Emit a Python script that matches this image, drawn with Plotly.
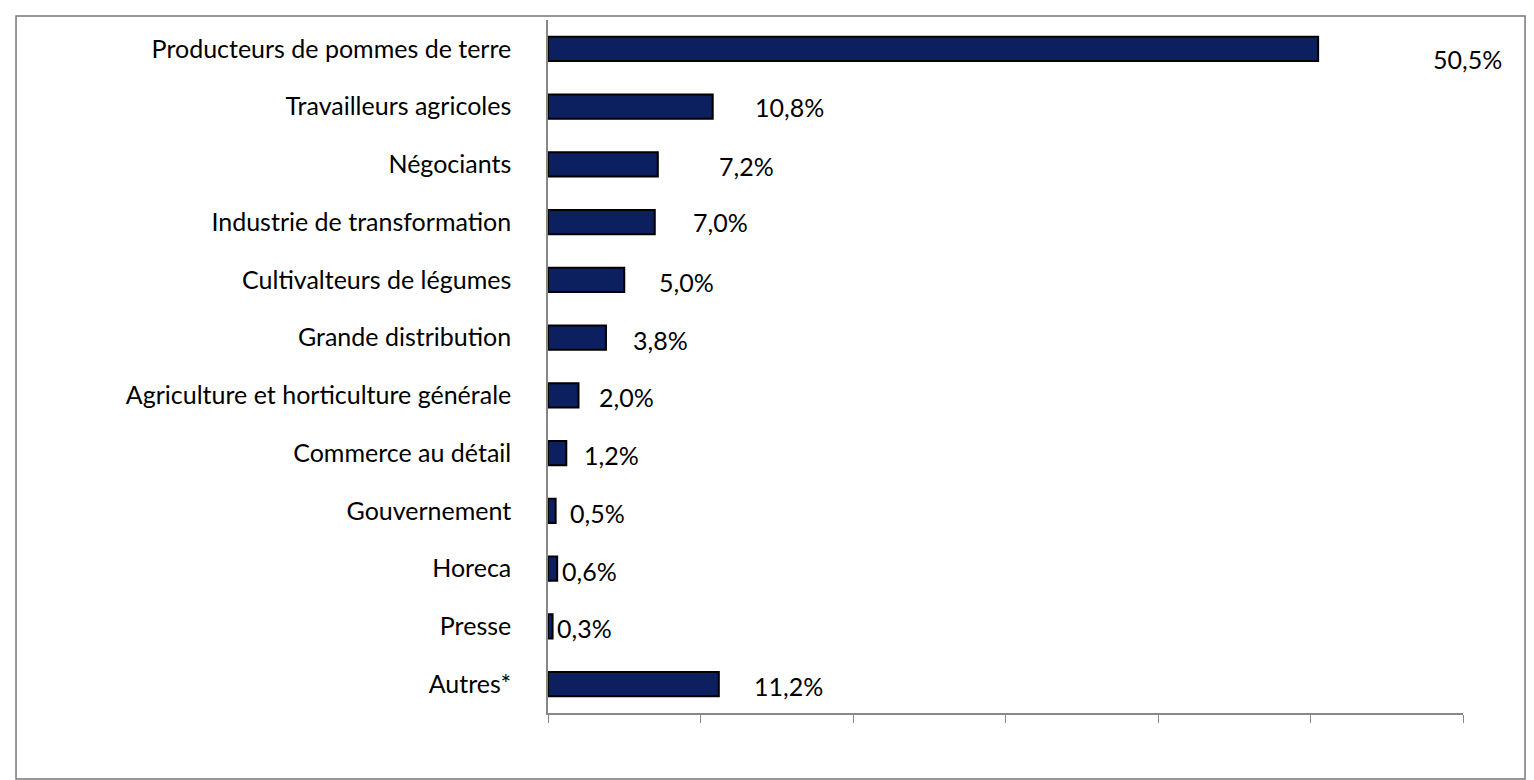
import plotly.graph_objects as go

categories = ["Producteurs de pommes de terre", "Travailleurs agricoles", "Négociants",
              "Industrie de transformation", "Cultivalteurs de légumes", "Grande distribution",
              "Agriculture et horticulture générale", "Commerce au détail", "Gouvernement",
              "Horeca", "Presse", "Autres*"]
values = [50.5, 10.8, 7.2, 7.0, 5.0, 3.8, 2.0, 1.2, 0.5, 0.6, 0.3, 11.2]
labels = ["50,5%", "10,8%", "7,2%", "7,0%", "5,0%", "3,8%", "2,0%", "1,2%", "0,5%", "0,6%", "0,3%", "11,2%"]

# label placement offsets (px), styling only
label_dx = [113, 40, 59, 36, 33, 25, 18, 16, 12, 3, 2, 33]
label_dy = [-10, 0, -2, 0, -2, -2, -2, -2, -2, -2, -2, -2]

FONT = "Lato"
fig = go.Figure(go.Bar(
    x=values, y=categories, orientation="h", width=0.42,
    marker=dict(color="#0c1f5e", line=dict(color="black", width=2)),
))
for c, v, t, dx, dy in zip(categories, values, labels, label_dx, label_dy):
    fig.add_annotation(x=v, y=c, text=t, showarrow=False, xanchor="left",
                       xshift=dx, yshift=dy, font=dict(family=FONT, size=25, color="black"))

fig.add_shape(type="rect", xref="paper", yref="paper", x0=-0.5814, x1=1.0678,
              y0=-0.0952, y1=1.0058, line=dict(color="#777", width=1.5))

fig.update_layout(
    width=1534, height=780, plot_bgcolor="white", paper_bgcolor="white",
    margin=dict(l=540, r=79, t=12, b=75), showlegend=False,
    font=dict(family=FONT, size=25, color="black"),
    xaxis=dict(range=[0, 60], dtick=10, showticklabels=False, showgrid=False,
               zeroline=False, showline=True, linecolor="#888", linewidth=1.5,
               ticks="outside", ticklen=8, tickcolor="#888"),
    yaxis=dict(autorange="reversed", showgrid=False, showline=True, linecolor="#888",
               linewidth=1.5, ticks="", ticklabelstandoff=30,
               tickfont=dict(family=FONT, size=25, color="black")),
)
fig.write_html("out.html")
